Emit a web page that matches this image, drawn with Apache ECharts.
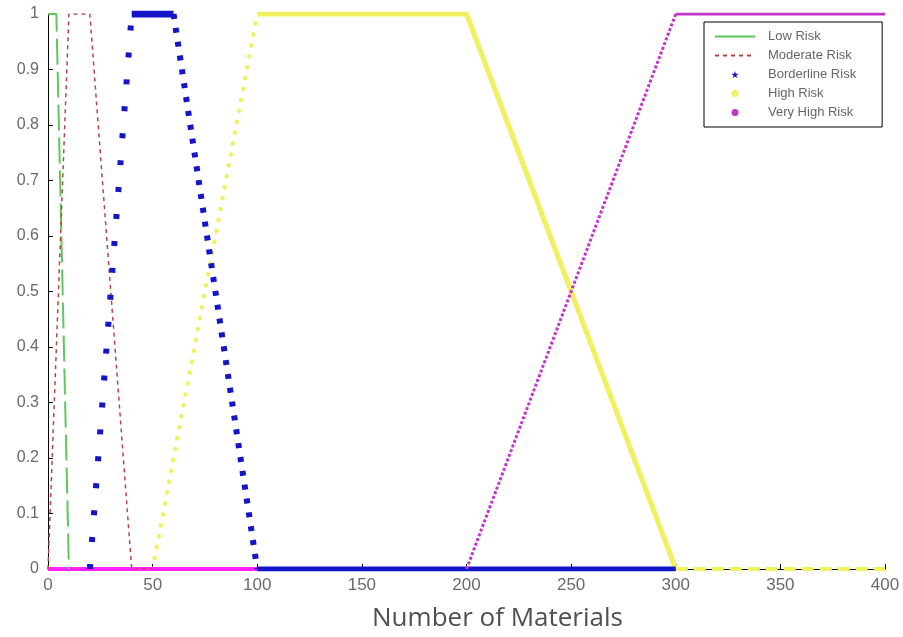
<!DOCTYPE html>
<html>
<head>
<meta charset="utf-8">
<title>Risk membership functions</title>
<script src="https://cdn.jsdelivr.net/npm/echarts@6.0.0/dist/echarts.min.js"></script>
<style>
  html, body { margin: 0; padding: 0; background: #fff; }
  #chart { width: 903px; height: 637px; }
</style>
</head>
<body>
<div id="chart"></div>
<script>
// breakpoints: [number of materials, membership]
var lowRisk        = [[0, 1], [4, 1], [10, 0]];
var moderateRisk   = [[0, 0], [10, 1], [20, 1], [40, 0], [50, 0]];
var borderRise     = [[20, 0], [40, 1]];
var borderTop      = [[40, 1], [60, 1]];
var borderFall     = [[60, 1], [100, 0]];
var borderZero     = [[100, 0], [300, 0]];
var highZeroLeft   = [[20, 0], [50, 0]];
var highRise       = [[50, 0], [100, 1]];
var highTopFall    = [[100, 1], [200, 1], [300, 0]];
var highZeroRight  = [[300, 0], [400, 0]];
var veryHighZero   = [[0, 0], [200, 0]];
var veryHighRise   = [[200, 0], [300, 1]];
var veryHighTop    = [[300, 1], [400, 1]];

var GREEN = '#5ec85e';
var BROWN = '#b8463e';
var BLUE = '#1414c8';
var YELLOW = '#f0f060';
var MAGENTA = '#c236cc';

var STAR = 'path://M50,0 L61,35 L98,35 L68,57 L79,91 L50,70 L21,91 L32,57 L2,35 L39,35 Z';

function seg(name, data, color, width, type, z, cap){
    return {
        type: 'line',
        name: name,
        data: data,
        symbol: 'none',
        z: z,
        silent: true,
        lineStyle: { color: color, width: width, type: type, cap: cap || 'butt' },
        itemStyle: { color: color }
    };
}

var chart = echarts.init(document.getElementById('chart'));

chart.setOption({
    animation: false,
    grid: { left: 48, right: 18, top: 14, bottom: 67 },
    xAxis: {
        type: 'value',
        min: 0, max: 400, interval: 50,
        name: 'Number of Materials',
        nameLocation: 'middle',
        nameGap: 37,
        nameTextStyle: { fontSize: 26, color: '#505050', fontFamily: 'Open Sans', padding: [0, 0, 0, 62] },
        axisLine: { lineStyle: { color: '#000', width: 1 } },
        axisTick: { inside: true, length: 5, lineStyle: { color: '#000' } },
        axisLabel: { margin: 8, fontSize: 17, color: '#6a6a6a', fontFamily: 'Liberation Sans' },
        splitLine: { show: false }
    },
    yAxis: {
        type: 'value',
        min: 0, max: 1, interval: 0.1,
        axisLine: { show: true, lineStyle: { color: '#000', width: 1 } },
        axisTick: { show: true, inside: true, length: 5, lineStyle: { color: '#000' } },
        axisLabel: { margin: 9, fontSize: 16, color: '#6a6a6a', fontFamily: 'Liberation Sans' },
        splitLine: { show: false }
    },
    legend: {
        orient: 'vertical',
        left: 704, top: 22,
        padding: [8, 26, 8, 10],
        itemGap: 6,
        itemWidth: 40,
        itemHeight: 7,
        backgroundColor: '#fff',
        borderColor: '#000',
        borderWidth: 1,
        borderRadius: 0,
        textStyle: { fontSize: 13, color: '#666', fontFamily: 'Liberation Sans', padding: [0, 0, 0, 8] },
        data: [
            { name: 'Low Risk', lineStyle: { type: 'solid', width: 2 }, itemStyle: { opacity: 0 } },
            { name: 'Moderate Risk', itemStyle: { opacity: 0 } },
            { name: 'Borderline Risk', icon: STAR },
            { name: 'High Risk', icon: 'circle' },
            { name: 'Very High Risk', icon: 'circle' }
        ]
    },
    series: [
        seg('Low Risk', lowRisk, GREEN, 2, [26, 7], 5),
        seg('Moderate Risk', moderateRisk, BROWN, 1.5, [4, 4], 6),
        seg('Borderline Risk', borderRise, BLUE, 6, [5, 22], 7),
        seg('Borderline Risk', borderTop, BLUE, 7, 'solid', 7),
        seg('Borderline Risk', borderFall, BLUE, 6, [5, 9], 7),
        seg('Borderline Risk', borderZero, BLUE, 5, 'solid', 4),
        seg('High Risk', highRise, YELLOW, 4.5, [0.1, 11], 3, 'round'),
        seg('High Risk', highTopFall, YELLOW, 5, 'solid', 3),
        seg('High Risk', highZeroLeft, '#f2c040', 3, 'solid', 2),
        seg('High Risk', highZeroRight, YELLOW, 4, [12, 6], 2),
        seg('Very High Risk', veryHighRise, MAGENTA, 3, [3, 2], 4),
        seg('Very High Risk', veryHighTop, MAGENTA, 3, 'solid', 4),
        seg('Very High Risk', veryHighZero, '#ff20ff', 4, 'solid', 3)
    ]
});
</script>
</body>
</html>
